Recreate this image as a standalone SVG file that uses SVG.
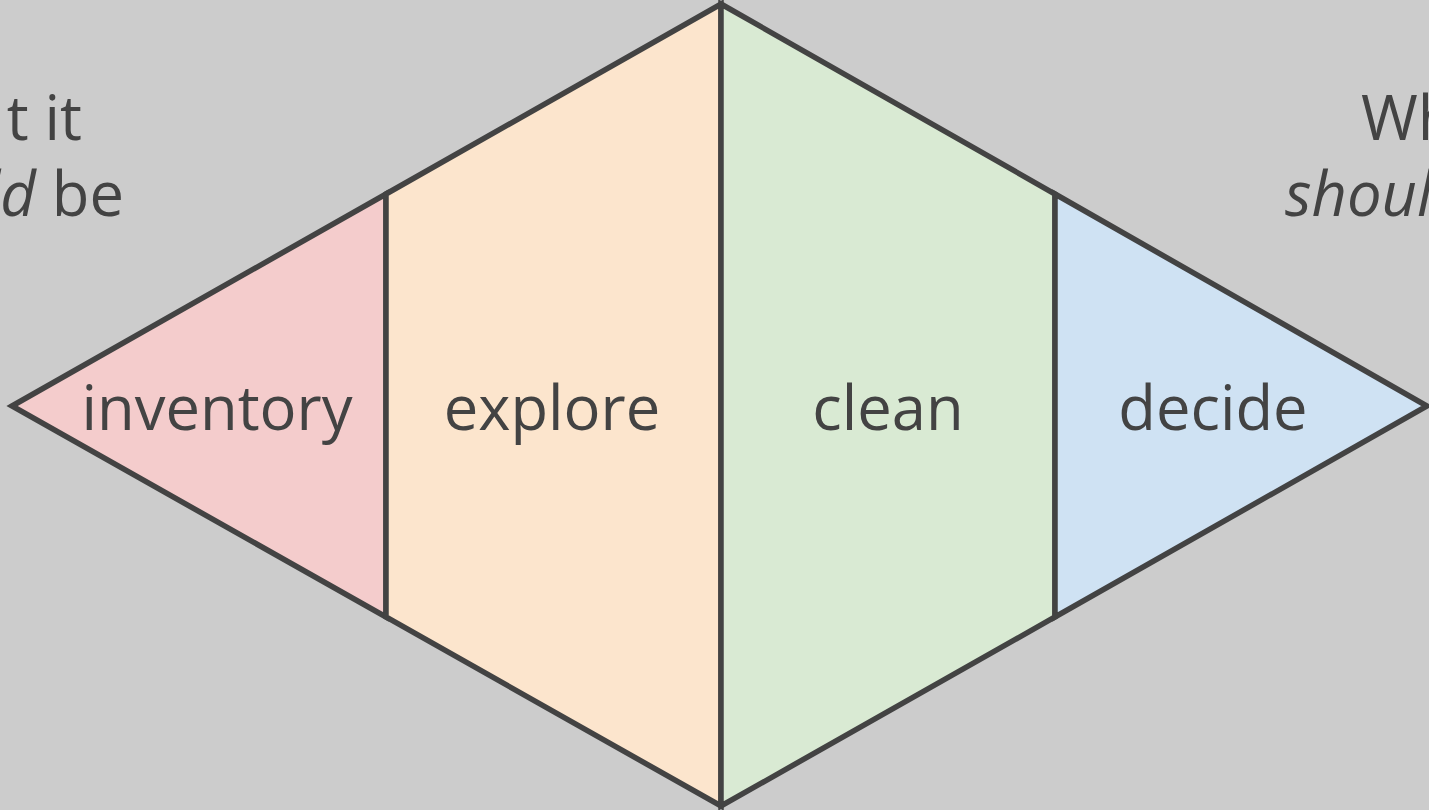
<svg xmlns="http://www.w3.org/2000/svg" width="1429" height="810" viewBox="0 0 1429 810">
<style>
.seg{stroke:#434343;stroke-width:5.5;stroke-linejoin:miter}
.lbl{font-family:"Open Sans","Noto Sans",sans-serif;font-size:61.5px;fill:#434343;text-anchor:middle}
.side{font-family:"Open Sans","Noto Sans",sans-serif;font-size:61.5px;fill:#434343}
</style>
<rect width="1429" height="810" fill="#cccccc"/>
<g id="inventory">
<polygon class="seg" points="12,406 386,194 386,617" fill="#f4cccc"/>
<text class="lbl" x="217" y="430">inventory</text>
</g>
<g id="explore">
<polygon class="seg" points="386,194 721,4 721,806 386,617" fill="#fce5cd"/>
<text class="lbl" x="552" y="430">explore</text>
</g>
<g id="clean">
<polygon class="seg" points="721,4 1055,194 1055,617 721,806" fill="#d9ead3"/>
<text class="lbl" x="888" y="430">clean</text>
</g>
<g id="decide">
<polygon class="seg" points="1055,194 1427,406 1055,617" fill="#cfe2f3"/>
<text class="lbl" x="1213" y="430">decide</text>
</g>
<g id="left-note">
<text class="side" x="82" y="140" text-anchor="end">t it</text>
<text class="side" x="124" y="216" text-anchor="end"><tspan font-style="italic">ld</tspan> be</text>
</g>
<g id="right-note">
<text class="side" x="1361" y="140">Wh</text>
<text class="side" x="1285" y="216" font-style="italic">shoul</text>
</g>
<g id="connectors"></g>
</svg>
